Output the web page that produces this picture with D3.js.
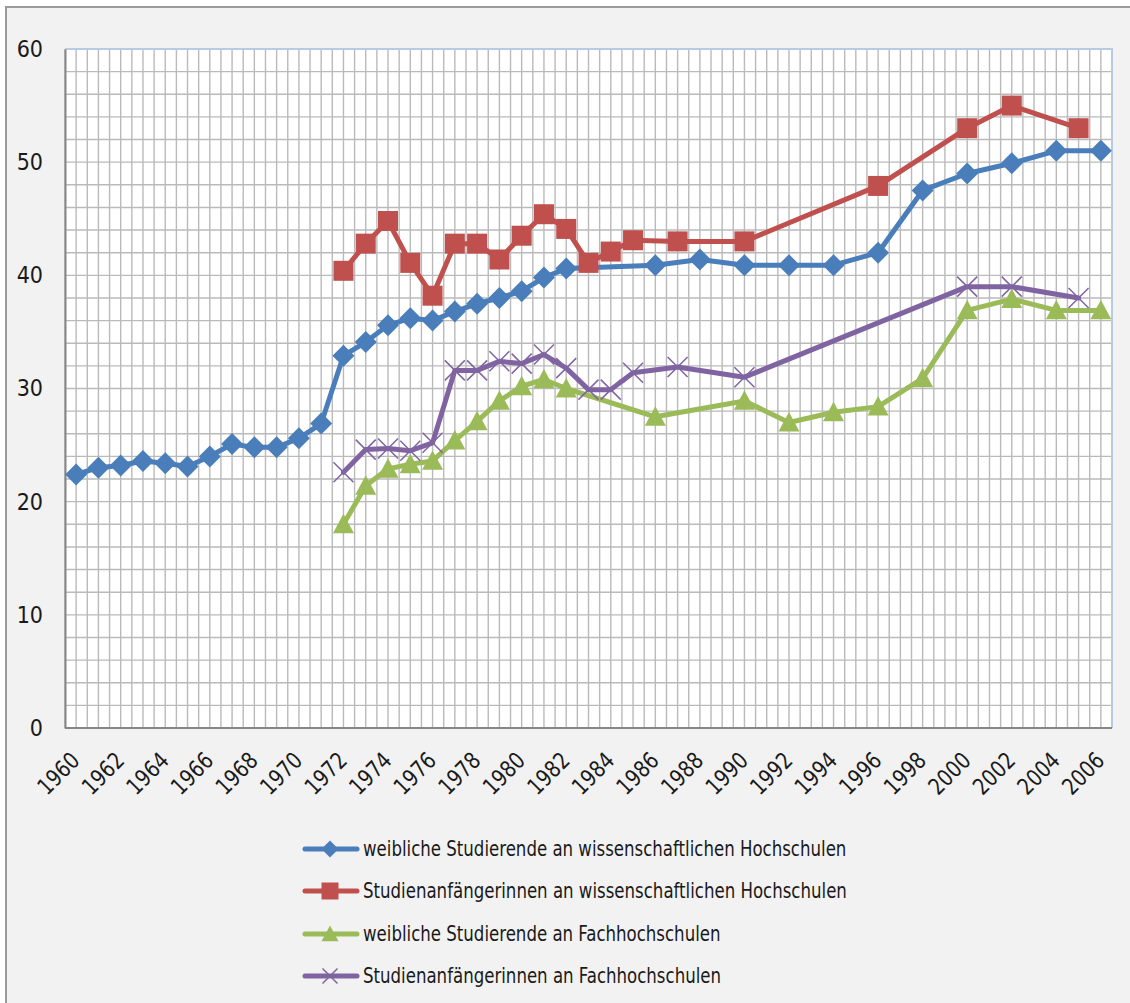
<!DOCTYPE html>
<html>
<head>
<meta charset="utf-8">
<script src="https://cdn.jsdelivr.net/npm/d3@7"></script>
<style>
  body { margin: 0; background: #ffffff; }
  svg text { font-family: "Liberation Sans Narrow", "DejaVu Sans Condensed", "Liberation Sans", sans-serif; fill: #1a1a1a; }
</style>
</head>
<body>
<div id="chart"></div>
<script>
// Categories (years) and axis labels
const years = [1960, 1961, 1962, 1963, 1964, 1965, 1966, 1967, 1968, 1969, 1970, 1971, 1972, 1973, 1974, 1975,
  1976, 1977, 1978, 1979, 1980, 1981, 1982, 1983, 1984, 1985, 1986, 1987, 1988, 1989, 1990, 1991, 1992, 1993,
  1994, 1995, 1996, 1997, 1998, 1999, 2000, 2001, 2002, 2003, 2004, 2005, 2006];
const tickYears = [1960, 1962, 1964, 1966, 1968, 1970, 1972, 1974, 1976, 1978, 1980, 1982, 1984, 1986, 1988,
  1990, 1992, 1994, 1996, 1998, 2000, 2002, 2004, 2006];
const yTicks = [0, 10, 20, 30, 40, 50, 60];

// weibliche Studierende an wissenschaftlichen Hochschulen
const wissStudYears = [1960, 1961, 1962, 1963, 1964, 1965, 1966, 1967, 1968, 1969, 1970, 1971, 1972, 1973, 1974,
  1975, 1976, 1977, 1978, 1979, 1980, 1981, 1982, 1986, 1988, 1990, 1992, 1994, 1996, 1998, 2000, 2002, 2004, 2006];
const wissStudValues = [22.4, 23.0, 23.2, 23.6, 23.4, 23.1, 24.0, 25.1, 24.8, 24.8, 25.6, 26.9, 32.9, 34.1, 35.6,
  36.2, 36.0, 36.8, 37.5, 38.0, 38.6, 39.8, 40.6, 40.9, 41.4, 40.9, 40.9, 40.9, 42.0, 47.5, 49.0, 49.9, 51.0, 51.0];

// Studienanfängerinnen an wissenschaftlichen Hochschulen
const wissAnfYears = [1972, 1973, 1974, 1975, 1976, 1977, 1978, 1979, 1980, 1981, 1982, 1983, 1984, 1985, 1987,
  1990, 1996, 2000, 2002, 2005];
const wissAnfValues = [40.4, 42.8, 44.8, 41.1, 38.2, 42.8, 42.8, 41.4, 43.5, 45.4, 44.1, 41.1, 42.1, 43.1, 43.0,
  43.0, 47.9, 53.0, 55.0, 53.0];

// weibliche Studierende an Fachhochschulen
const fhStudYears = [1972, 1973, 1974, 1975, 1976, 1977, 1978, 1979, 1980, 1981, 1982, 1986, 1990, 1992, 1994,
  1996, 1998, 2000, 2002, 2004, 2006];
const fhStudValues = [18.0, 21.4, 22.9, 23.3, 23.6, 25.4, 27.1, 28.9, 30.2, 30.8, 30.0, 27.5, 28.9, 27.0, 27.9,
  28.4, 30.9, 36.9, 37.9, 36.9, 36.9];

// Studienanfängerinnen an Fachhochschulen
const fhAnfYears = [1972, 1973, 1974, 1975, 1976, 1977, 1978, 1979, 1980, 1981, 1982, 1983, 1984, 1985, 1987,
  1990, 2000, 2002, 2005];
const fhAnfValues = [22.6, 24.6, 24.7, 24.5, 25.2, 31.6, 31.6, 32.4, 32.2, 33.0, 31.8, 29.9, 29.9, 31.4, 31.9,
  31.0, 39.0, 39.0, 38.0];

const seriesNames = [
  "weibliche Studierende an wissenschaftlichen Hochschulen",
  "Studienanfängerinnen an wissenschaftlichen Hochschulen",
  "weibliche Studierende an Fachhochschulen",
  "Studienanfängerinnen an Fachhochschulen"
];

const series = [
  { name: seriesNames[0], years: wissStudYears, values: wissStudValues, color: "#4a7ebb", marker: "diamond" },
  { name: seriesNames[1], years: wissAnfYears, values: wissAnfValues, color: "#c0504d", marker: "square" },
  { name: seriesNames[2], years: fhStudYears, values: fhStudValues, color: "#9bbb59", marker: "triangle" },
  { name: seriesNames[3], years: fhAnfYears, values: fhAnfValues, color: "#8064a2", marker: "cross" }
];

const width = 1130, height = 1003;
const plot = { left: 65, top: 49, right: 1112, bottom: 728 };

const svg = d3.select("#chart").append("svg")
  .attr("width", width)
  .attr("height", height);

// outer frame
svg.append("rect")
  .attr("x", 6).attr("y", 7)
  .attr("width", 1130).attr("height", 1010)
  .attr("fill", "#f2f2f2")
  .attr("stroke", "#9a9a9a")
  .attr("stroke-width", 2);

// scales
const x = d3.scaleBand()
  .domain(years)
  .range([plot.left, plot.right])
  .paddingInner(0).paddingOuter(0);
const xc = yr => x(yr) + x.bandwidth() / 2;

const y = d3.scaleLinear()
  .domain([0, 60])
  .range([plot.bottom, plot.top]);

// plot area
svg.append("rect")
  .attr("x", plot.left).attr("y", plot.top)
  .attr("width", plot.right - plot.left).attr("height", plot.bottom - plot.top)
  .attr("fill", "#ffffff");

// gridlines: vertical every half category, horizontal every 2 units
const grid = svg.append("g").attr("stroke", "#bababa").attr("stroke-width", 1.4);
const vLines = [];
years.forEach(yr => { vLines.push(x(yr)); vLines.push(xc(yr)); });
grid.selectAll(".vg")
  .data(vLines)
  .enter().append("line")
  .attr("x1", d => d).attr("x2", d => d)
  .attr("y1", plot.top).attr("y2", plot.bottom);
grid.selectAll(".hg")
  .data(y.ticks(30))
  .enter().append("line")
  .attr("x1", plot.left).attr("x2", plot.right)
  .attr("y1", d => y(d)).attr("y2", d => y(d));

// top/right border (light blue)
svg.append("path")
  .attr("d", `M${plot.left},${plot.top}H${plot.right}V${plot.bottom}`)
  .attr("fill", "none")
  .attr("stroke", "#b7cbe6")
  .attr("stroke-width", 2);

// axes
const yAxis = d3.axisLeft(y).tickValues(yTicks).tickSize(0).tickPadding(22);
const gy = svg.append("g")
  .attr("transform", `translate(${plot.left},0)`)
  .call(yAxis);
gy.select(".domain").attr("stroke", "#868686").attr("stroke-width", 2);
gy.selectAll("text")
  .attr("font-size", 23)
  .attr("font-family", null)
  .attr("fill", "#1a1a1a");

svg.append("line")
  .attr("x1", plot.left).attr("x2", plot.right)
  .attr("y1", plot.bottom).attr("y2", plot.bottom)
  .attr("stroke", "#868686").attr("stroke-width", 2);

svg.append("g").selectAll("text")
  .data(tickYears)
  .enter().append("text")
  .attr("transform", d => `translate(${xc(d) + 5},${plot.bottom + 34}) rotate(-45) scale(0.92,1)`)
  .attr("text-anchor", "end")
  .attr("font-size", 23)
  .text(d => d);

// marker shapes
function markerPath(type, s) {
  const h = s / 2;
  if (type === "diamond") return `M0,${-h}L${h},0L0,${h}L${-h},0Z`;
  if (type === "square") return `M${-h},${-h}H${h}V${h}H${-h}Z`;
  if (type === "triangle") return `M0,${-h}L${h},${h * 0.85}L${-h},${h * 0.85}Z`;
  return `M${-h},${-h}L${h},${h}M${-h},${h}L${h},${-h}`;
}
const markerSize = { diamond: 22, square: 20, triangle: 21, cross: 20 };

const line = d3.line()
  .x(d => xc(d.year))
  .y(d => y(d.value));

series.forEach(s => {
  const pts = s.years.map((yr, i) => ({ year: yr, value: s.values[i] }));
  const g = svg.append("g");
  g.append("path")
    .datum(pts)
    .attr("fill", "none")
    .attr("stroke", s.color)
    .attr("stroke-width", 5)
    .attr("stroke-linejoin", "round")
    .attr("stroke-linecap", "round")
    .attr("d", line);
  g.selectAll(".m")
    .data(pts)
    .enter().append("path")
    .attr("transform", d => `translate(${xc(d.year)},${y(d.value)})`)
    .attr("d", markerPath(s.marker, markerSize[s.marker]))
    .attr("fill", s.marker === "cross" ? "none" : s.color)
    .attr("stroke", s.color)
    .attr("stroke-width", s.marker === "cross" ? 1.5 : 0);
});

// legend
const legend = svg.append("g");
const legendY = [849, 891, 934, 976];
series.forEach((s, i) => {
  const ly = legendY[i];
  legend.append("line")
    .attr("x1", 305).attr("x2", 357)
    .attr("y1", ly).attr("y2", ly)
    .attr("stroke", s.color)
    .attr("stroke-width", 5)
    .attr("stroke-linecap", "round");
  legend.append("path")
    .attr("transform", `translate(330,${ly})`)
    .attr("d", markerPath(s.marker, s.marker === "cross" ? 15 : 17))
    .attr("fill", s.marker === "cross" ? "none" : s.color)
    .attr("stroke", s.color)
    .attr("stroke-width", s.marker === "cross" ? 1.5 : 0);
  legend.append("text")
    .attr("transform", `translate(363,${ly}) scale(0.9,1)`)
    .attr("dy", "0.35em")
    .attr("font-size", 20.5)
    .text(s.name);
});
</script>
</body>
</html>
